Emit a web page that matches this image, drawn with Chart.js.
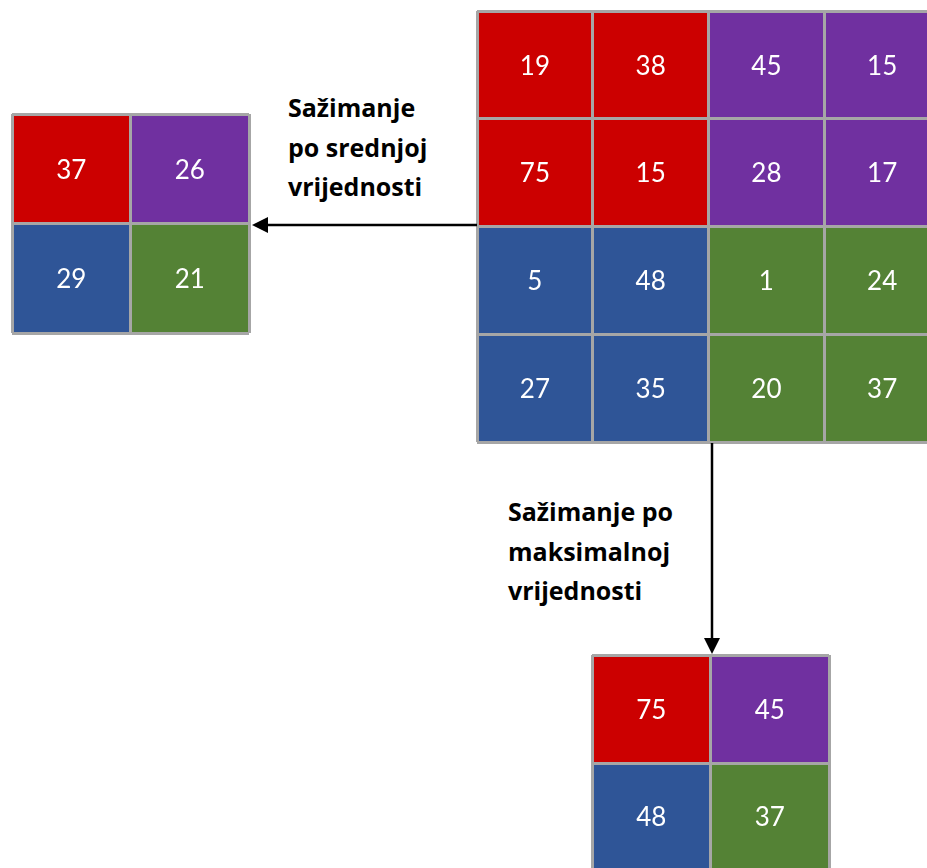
<!DOCTYPE html>
<html>
<head>
<meta charset="utf-8">
<script src="https://cdn.jsdelivr.net/npm/chart.js@4.4.1/dist/chart.umd.min.js"></script>
<style>
    html, body { margin: 0; padding: 0; background: #fff; overflow: hidden; }
    body { width: 927px; height: 868px; position: relative; }
    canvas { position: absolute; }
    .caption {
        position: absolute;
        font-family: "Open Sans", Lato, sans-serif;
        font-weight: bold;
        font-size: 25px;
        line-height: 39.5px;
        color: #000;
        white-space: nowrap;
    }
    svg { position: absolute; left: 0; top: 0; }
</style>
</head>
<body>
<canvas id="inputGrid" width="467" height="435" style="left:475px; top:9px;"></canvas>
<canvas id="avgGrid" width="241" height="223" style="left:10px; top:112px;"></canvas>
<canvas id="maxGrid" width="241" height="220" style="left:590px; top:653px;"></canvas>

<div class="caption" style="left:288px; top:88px;">Sažimanje<br>po srednjoj<br>vrijednosti</div>
<div class="caption" style="left:508px; top:492px;">Sažimanje po<br>maksimalnoj<br>vrijednosti</div>

<svg width="927" height="868">
    <line x1="477" y1="225" x2="264" y2="225" stroke="#000" stroke-width="2.5"/>
    <polygon points="252,225 268,217 268,233" fill="#000"/>
    <line x1="712" y1="443" x2="712" y2="640" stroke="#000" stroke-width="2.5"/>
    <polygon points="712,654 704,638 720,638" fill="#000"/>
</svg>

<script>
// Input feature map (4x4) and the two pooled results (2x2)
const inputValues = [
    [19, 38, 45, 15],
    [75, 15, 28, 17],
    [5, 48, 1, 24],
    [27, 35, 20, 37]
];
const avgValues = [
    [37, 26],
    [29, 21]
];
const maxValues = [
    [75, 45],
    [48, 37]
];
// one colour per 2x2 pooling window
const windowColors = [
    ['#cc0000', '#7030a0'],
    ['#2f5597', '#548235']
];

const gridColor = '#a6a6a6';

// white numbers in the middle of every cell
const cellLabels = {
    id: 'cellLabels',
    afterDatasetsDraw(chart) {
        const ctx = chart.ctx;
        ctx.save();
        ctx.fillStyle = '#ffffff';
        ctx.font = '26px Lato, "Open Sans", sans-serif';
        ctx.textAlign = 'center';
        ctx.textBaseline = 'middle';
        chart.data.datasets.forEach((ds, i) => {
            chart.getDatasetMeta(i).data.forEach((bar, j) => {
                const p = bar.getProps(['x', 'y', 'base'], true);
                ctx.fillText(String(ds.cellValues[j]), p.x, (p.y + p.base) / 2 + 1);
            });
        });
        ctx.restore();
    }
};

function drawGrid(canvasId, values, blockSize) {
    const rows = values.length;
    const labels = values[0].map((_, c) => 'c' + c);

    const datasets = values.map((row, r) => ({
        data: row.map(() => 1),
        cellValues: row,
        backgroundColor: row.map((_, c) =>
            windowColors[Math.floor(r / blockSize)][Math.floor(c / blockSize)]),
        borderWidth: 0,
        barPercentage: 1,
        categoryPercentage: 1
    }));

    new Chart(document.getElementById(canvasId).getContext('2d'), {
        type: 'bar',
        data: { labels: labels, datasets: datasets },
        options: {
            responsive: false,
            animation: false,
            layout: { padding: 2 },
            plugins: {
                legend: { display: false },
                tooltip: { enabled: false }
            },
            scales: {
                x: {
                    stacked: true,
                    offset: true,
                    ticks: { display: false },
                    border: { display: false },
                    grid: { offset: true, color: gridColor, lineWidth: 3, drawTicks: false, z: 1 }
                },
                y: {
                    stacked: true,
                    min: 0,
                    max: rows,
                    reverse: true,
                    ticks: { display: false, stepSize: 1 },
                    border: { display: false },
                    grid: { color: gridColor, lineWidth: 3, drawTicks: false, z: 1 }
                }
            }
        },
        plugins: [cellLabels]
    });
}

drawGrid('inputGrid', inputValues, 2);
drawGrid('avgGrid', avgValues, 1);
drawGrid('maxGrid', maxValues, 1);
</script>
</body>
</html>
